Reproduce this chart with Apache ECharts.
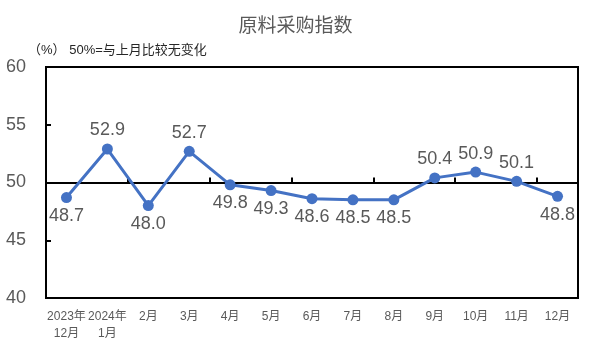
<!DOCTYPE html>
<html>
<head>
<meta charset="utf-8">
<script src="https://cdn.jsdelivr.net/npm/echarts@6/dist/echarts.min.js"></script>
<style>
  html, body { margin: 0; padding: 0; background: #fff; }
  #chart { width: 591px; height: 354px; }
</style>
</head>
<body>
<div id="chart"></div>
<script>
// 原料采购指数 data
var months = ['2023年\n12月', '2024年\n1月', '2月', '3月', '4月', '5月', '6月', '7月', '8月', '9月', '10月', '11月', '12月'];
var values = [48.7, 52.9, 48.0, 52.7, 49.8, 49.3, 48.6, 48.5, 48.5, 50.4, 50.9, 50.1, 48.8];
var yTicks = [40, 45, 50, 55, 60];

var chart = echarts.init(document.getElementById('chart'));
var font = '"Liberation Sans", "Noto Sans CJK SC", sans-serif';

var option = {
  animation: false,
  textStyle: { fontFamily: font },
  title: [{
    text: '原料采购指数',
    left: 'center',
    top: 12,
    textStyle: { fontSize: 19, fontWeight: 'normal', color: '#595959', fontFamily: font }
  }, {
    text: '（%） 50%=与上月比较无变化',
    left: 23,
    top: 39,
    textStyle: { fontSize: 13, fontWeight: 'normal', color: '#262626', fontFamily: font }
  }],
  grid: {
    left: 46, right: 13, top: 67, bottom: 56,
    show: true,
    borderColor: '#000',
    borderWidth: 2
  },
  xAxis: [{
    type: 'category',
    data: months,
    boundaryGap: true,
    axisLine: { show: false },
    axisTick: { show: false },
    axisLabel: { color: '#595959', fontSize: 12, margin: 10, lineHeight: 17, interval: 0 }
  }, {
    // line across at 50
    type: 'category',
    data: months,
    position: 'bottom',
    offset: -115.5,
    axisLine: { show: true, lineStyle: { color: '#000', width: 2 } },
    axisTick: { show: true, inside: true, length: 5, lineStyle: { color: '#000', width: 2 } },
    axisLabel: { show: false }
  }],
  yAxis: {
    type: 'value',
    min: yTicks[0],
    max: yTicks[yTicks.length - 1],
    interval: 5,
    axisLine: { show: true, lineStyle: { color: '#000', width: 2 } },
    axisTick: { show: true, inside: true, length: 5, lineStyle: { color: '#000', width: 2 } },
    splitLine: { show: false },
    axisLabel: { color: '#595959', fontSize: 18, margin: 20 }
  },
  series: [{
    type: 'line',
    data: values.map(function (v) {
      return { value: v, label: { position: v < 50 ? 'bottom' : 'top' } };
    }),
    symbol: 'circle',
    symbolSize: 11,
    lineStyle: { color: '#4472C4', width: 3 },
    itemStyle: { color: '#4472C4' },
    label: {
      show: true,
      color: '#595959',
      fontSize: 18,
      distance: 4,
      formatter: function (p) { return p.value.toFixed(1); }
    },
    z: 5
  }]
};

chart.setOption(option);
</script>
</body>
</html>
